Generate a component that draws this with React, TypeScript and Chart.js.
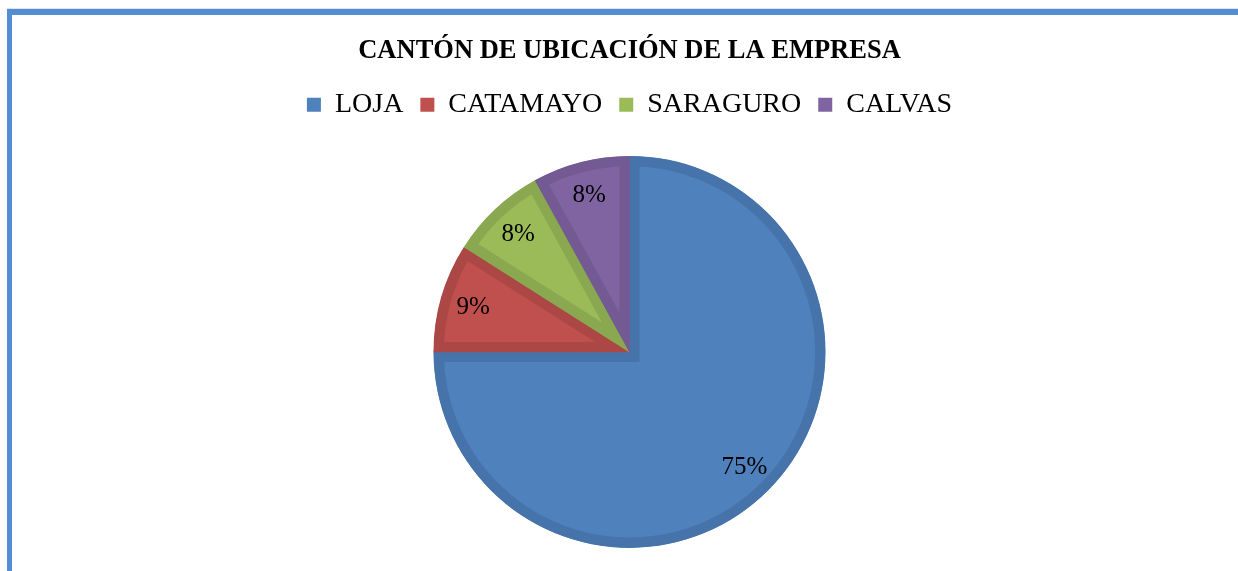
import React, { useEffect, useRef } from "react";
import { Chart, registerables } from "chart.js";

Chart.register(...registerables);

const TITLE = "CANTÓN DE UBICACIÓN DE LA EMPRESA";
const categories = ["LOJA", "CATAMAYO", "SARAGURO", "CALVAS"];
const percentages = [75, 9, 8, 8];
const fillColors = ["#4f81bd", "#c0504d", "#9bbb59", "#8064a2"];
const edgeColors = ["#4673aa", "#ab4744", "#8aa84f", "#735a92"];

const SERIF = "'Liberation Serif', 'Times New Roman', serif";

const pctLabels = {
  id: "pctLabels",
  afterDatasetsDraw(chart: any) {
    const ctx = chart.ctx;
    const meta = chart.getDatasetMeta(0);
    ctx.save();
    ctx.font = `25px ${SERIF}`;
    ctx.fillStyle = "#000000";
    ctx.textAlign = "center";
    ctx.textBaseline = "middle";
    meta.data.forEach((arc: any, i: number) => {
      const p = arc.getProps(["x", "y", "startAngle", "endAngle", "outerRadius"], true);
      const mid = (p.startAngle + p.endAngle) / 2;
      const r = p.outerRadius * 0.83;
      ctx.fillText(`${percentages[i]}%`, p.x + Math.cos(mid) * r, p.y + Math.sin(mid) * r + 1);
    });
    ctx.restore();
  },
};

export default function App() {
  const ref = useRef<HTMLCanvasElement | null>(null);
  useEffect(() => {
    if (!ref.current) return;
    const chart = new Chart(ref.current, {
      type: "pie",
      data: {
        labels: categories,
        datasets: [
          {
            data: percentages,
            backgroundColor: fillColors,
            borderColor: edgeColors,
            borderWidth: 10,
            borderAlign: "inner",
            borderJoinStyle: "miter",
            radius: 196,
          } as any,
        ],
      },
      options: {
        responsive: false,
        animation: false,
        layout: { padding: { left: 21, right: 0, top: 0, bottom: 5 } },
        plugins: {
          title: {
            display: true,
            text: TITLE,
            color: "#000000",
            font: { family: SERIF, size: 26.5, weight: "bold" },
            padding: { top: 35, bottom: 7 },
          },
          legend: {
            display: true,
            position: "top",
            labels: {
              color: "#000000",
              font: { family: SERIF, size: 28 },
              boxWidth: 14,
              boxHeight: 14,
              padding: 17,
              generateLabels(c: any) {
                const base = (Chart as any).overrides.pie.plugins.legend.labels.generateLabels(c);
                return base.map((it: any, i: number) => ({
                  ...it,
                  fillStyle: fillColors[i],
                  strokeStyle: fillColors[i],
                  lineWidth: 0,
                }));
              },
            },
          },
          tooltip: { enabled: false },
        },
      },
      plugins: [pctLabels],
    });
    return () => chart.destroy();
  }, []);

  return (
    <div
      style={{
        position: "fixed",
        left: 0,
        top: 0,
        width: 1238,
        height: 571,
        overflow: "hidden",
        background: "#ffffff",
      }}
    >
      <div
        style={{
          position: "absolute",
          left: 7,
          top: 8,
          width: 1300,
          height: 700,
          borderTop: "1px solid #dfe3ea",
        }}
      />
      <div
        style={{
          position: "absolute",
          left: 7,
          top: 9,
          width: 1300,
          height: 700,
          borderLeft: "5px solid #548dd4",
          borderTop: "6px solid #548dd4",
        }}
      />
      <canvas
        ref={ref}
        width={1238}
        height={580}
        style={{ position: "absolute", left: 0, top: 0, width: 1238, height: 580 }}
      />
    </div>
  );
}
